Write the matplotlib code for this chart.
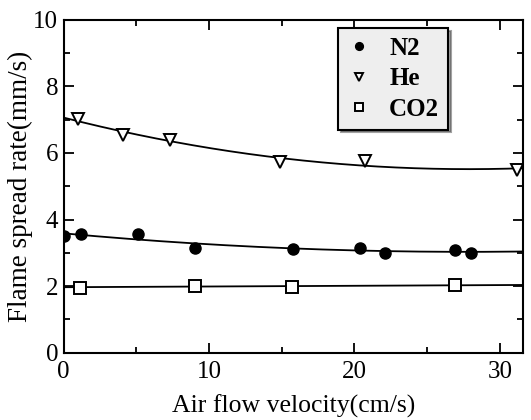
import numpy as np
import matplotlib
matplotlib.use("Agg")
import matplotlib.pyplot as plt
from matplotlib.ticker import MultipleLocator

# Data
n2_x = [0.0, 1.2, 5.1, 9.0, 15.8, 20.4, 22.1, 26.9, 28.0]
n2_y = [3.50, 3.58, 3.57, 3.14, 3.13, 3.14, 2.99, 3.09, 2.99]

he_x = [1.0, 4.1, 7.3, 14.9, 20.7, 31.2]
he_y = [7.03, 6.53, 6.40, 5.73, 5.76, 5.50]

co2_x = [1.1, 9.0, 15.7, 26.9]
co2_y = [1.96, 2.02, 1.98, 2.03]

x_ticks = [0, 10, 20, 30]
y_ticks = [0, 2, 4, 6, 8, 10]

plt.rcParams['font.family'] = ['Liberation Serif', 'DejaVu Serif']

fig = plt.figure(figsize=(5.31, 4.2), dpi=100)
ax = fig.add_axes([0.12, 0.16, 0.865, 0.793])

xfit = np.linspace(0, 31.6, 200)
for xs, ys, deg in [(n2_x, n2_y, 2), (he_x, he_y, 2), (co2_x, co2_y, 1)]:
    c = np.polyfit(xs, ys, deg)
    ax.plot(xfit, np.polyval(c, xfit), color='black', lw=1.3, zorder=2)

ax.plot(n2_x, n2_y, 'o', color='black', ms=8, ls='none', label='N2', zorder=3)
ax.plot(he_x, he_y, 'v', mfc='white', mec='black', mew=1.4, ms=9, ls='none', label='He', zorder=3)
ax.plot(co2_x, co2_y, 's', mfc='white', mec='black', mew=1.4, ms=8, ls='none', label='CO2', zorder=3)

ax.set_xlim(0, 31.6)
ax.set_ylim(0, 10)
ax.set_xticks(x_ticks)
ax.set_yticks(y_ticks)
ax.xaxis.set_minor_locator(MultipleLocator(5))
ax.yaxis.set_minor_locator(MultipleLocator(1))
ax.tick_params(which='both', direction='in', top=True, right=True, width=1.3)
ax.tick_params(which='major', length=7, labelsize=18)
ax.tick_params(axis='x', which='major', pad=6)
ax.tick_params(axis='y', which='major', pad=4)
ax.tick_params(which='minor', length=4)
for s in ax.spines.values():
    s.set_linewidth(1.5)

ax.set_xlabel('Air flow velocity(cm/s)', fontsize=18.5, labelpad=8)
ax.set_ylabel('Flame spread rate(mm/s)', fontsize=19.5, labelpad=0)

leg = ax.legend(loc='upper left', bbox_to_anchor=(0.597, 0.975), borderaxespad=0,
                fontsize=18, frameon=True, fancybox=False, shadow=True,
                facecolor='#eeeeee', edgecolor='black', handlelength=1.0,
                handletextpad=0.7, borderpad=0.35, labelspacing=0.3,
                markerscale=0.7)
leg.get_frame().set_linewidth(1.5)
for t in leg.get_texts():
    t.set_fontweight('bold')

fig.savefig('out.png', dpi=100)
